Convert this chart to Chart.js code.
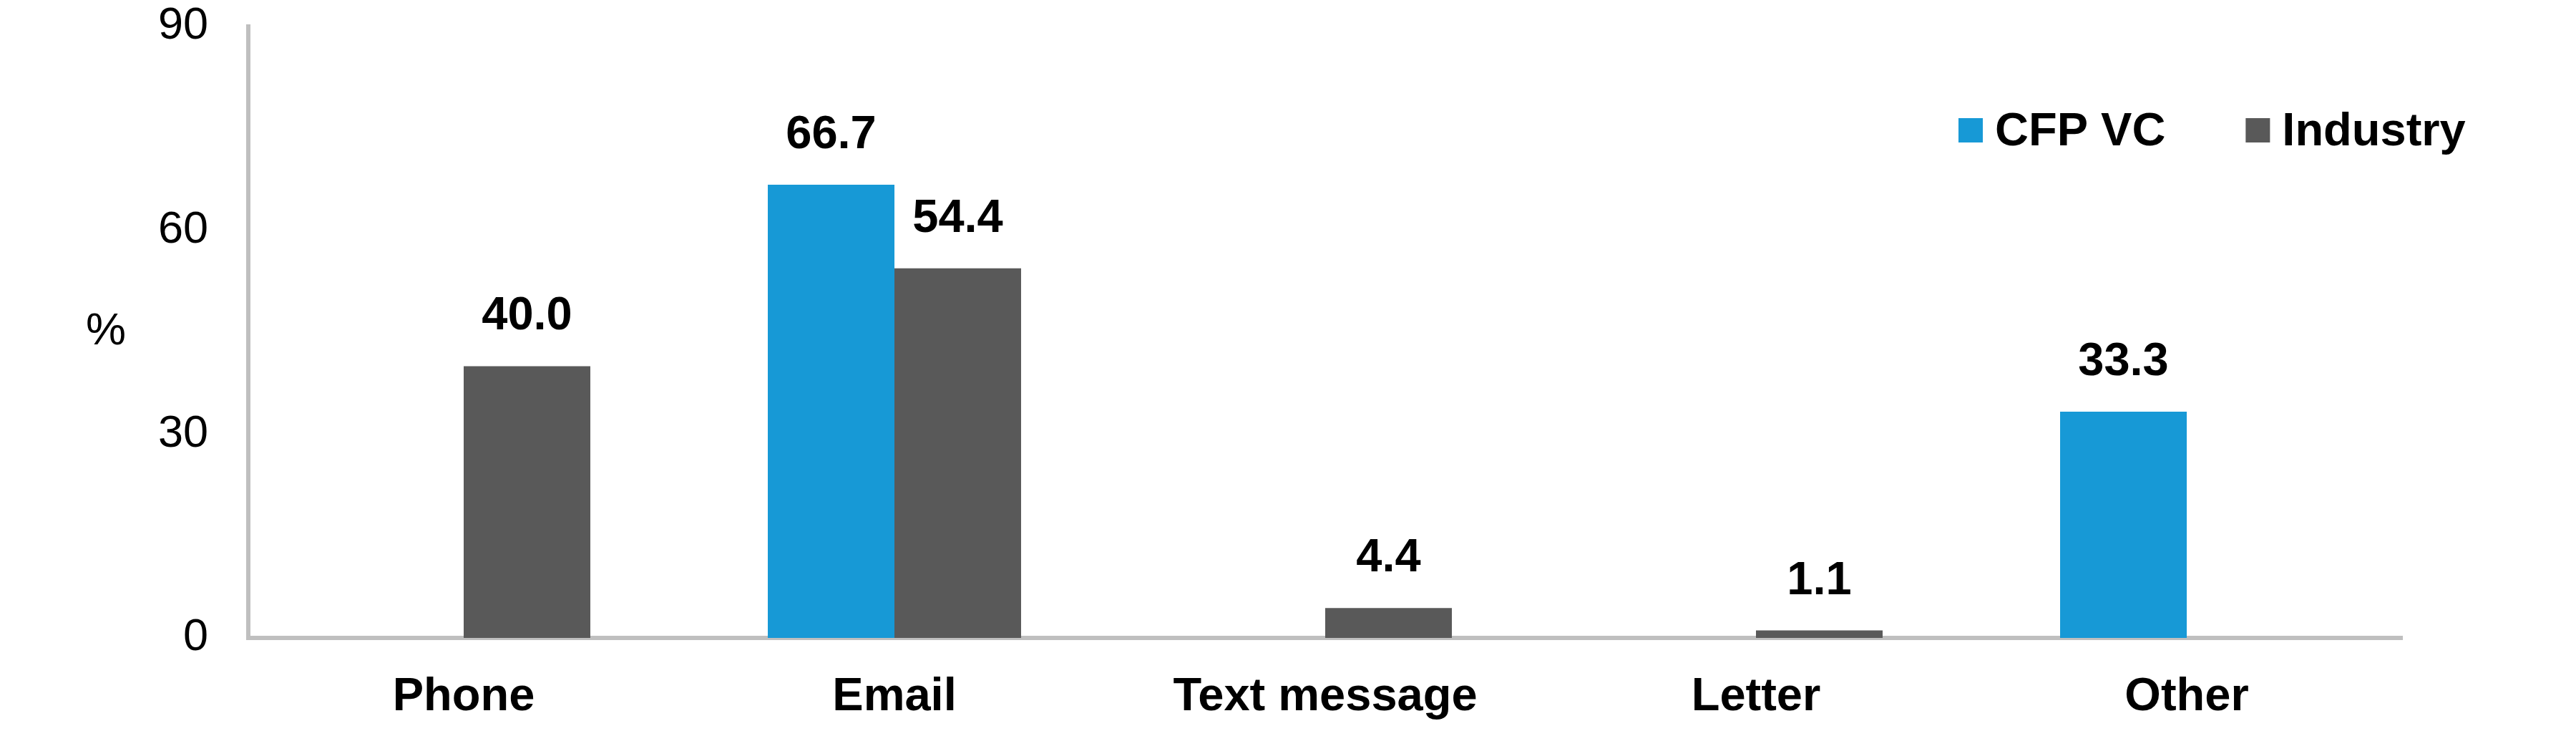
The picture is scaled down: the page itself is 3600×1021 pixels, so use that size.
<!DOCTYPE html>
<html>
<head>
<meta charset="utf-8">
<script src="https://cdn.jsdelivr.net/npm/chart.js@4.4.1/dist/chart.umd.min.js"></script>
<style>
  html, body { margin: 0; padding: 0; background: #fff; }
  #wrap { width: 3600px; height: 1021px; }
</style>
</head>
<body>
<div id="wrap"><canvas id="chart" width="3600" height="1021"></canvas></div>
<script>
const categories = ["Phone", "Email", "Text message", "Letter", "Other"];
const cfpValues = [0, 66.7, 0, 0, 33.3];
const industryValues = [40.0, 54.4, 4.4, 1.1, 0];
const yTicks = [0, 30, 60, 90];

const FONT = "'Liberation Sans', Arial, sans-serif";
const BLUE = "#1799D6";
const GREY = "#595959";
const AXIS = "#BFBFBF";

// value labels above the bars (zero values are left blank)
const valueLabels = {
  id: "valueLabels",
  afterDatasetsDraw(chart) {
    const ctx = chart.ctx;
    ctx.save();
    ctx.font = "bold 65px " + FONT;
    ctx.fillStyle = "#000";
    ctx.textAlign = "center";
    ctx.textBaseline = "alphabetic";
    chart.data.datasets.forEach((ds, i) => {
      chart.getDatasetMeta(i).data.forEach((bar, j) => {
        const v = ds.data[j];
        if (!v) return;
        ctx.fillText(v.toFixed(1), bar.x, bar.y - 51);
      });
    });
    ctx.restore();
  }
};

// "%" axis caption, horizontal like the original
const yCaption = {
  id: "yCaption",
  afterDraw(chart) {
    const ctx = chart.ctx;
    const a = chart.chartArea;
    ctx.save();
    ctx.font = "63px " + FONT;
    ctx.fillStyle = "#000";
    ctx.textAlign = "center";
    ctx.textBaseline = "middle";
    ctx.fillText("%", 148, (a.top + a.bottom) / 2);
    ctx.restore();
  }
};

// legend sits in the top right corner, past the end of the plot
const cornerLegend = {
  id: "cornerLegend",
  afterDraw(chart) {
    const ctx = chart.ctx;
    ctx.save();
    ctx.font = "bold 65px " + FONT;
    ctx.textBaseline = "alphabetic";
    ctx.textAlign = "left";
    let x = 2737;
    chart.data.datasets.forEach(ds => {
      ctx.fillStyle = ds.backgroundColor;
      ctx.fillRect(x, 165, 34, 34);
      ctx.fillStyle = "#000";
      ctx.fillText(ds.label, x + 51, 203);
      x += 51 + ctx.measureText(ds.label).width + 112;
    });
    ctx.restore();
  }
};

const ctx = document.getElementById("chart").getContext("2d");
new Chart(ctx, {
  type: "bar",
  data: {
    labels: categories,
    datasets: [
      { label: "CFP VC", data: cfpValues, backgroundColor: BLUE, borderWidth: 0 },
      { label: "Industry", data: industryValues, backgroundColor: GREY, borderWidth: 0 }
    ]
  },
  options: {
    responsive: false,
    devicePixelRatio: 1,
    animation: false,
    layout: { padding: { top: 0, right: 243, left: 0, bottom: 0 } },
    datasets: { bar: { barPercentage: 1.0, categoryPercentage: 0.588 } },
    plugins: {
      legend: { display: false },
      tooltip: { enabled: false },
      title: { display: false }
    },
    scales: {
      x: {
        grid: { display: false, drawTicks: false },
        border: { display: true, color: AXIS, width: 6 },
        ticks: { color: "#000", font: { family: FONT, size: 65, weight: "bold" }, padding: 44, maxRotation: 0, autoSkip: false },
        afterFit(s) { s.height = 130; }
      },
      y: {
        min: 0,
        max: 90,
        afterBuildTicks(s) { s.ticks = yTicks.map(v => ({ value: v })); },
        grid: { display: false, drawTicks: false },
        border: { display: true, color: AXIS, width: 6 },
        ticks: { color: "#000", font: { family: FONT, size: 63 }, padding: 56 },
        afterFit(s) { s.width = 347; s.paddingTop = 37; s.paddingBottom = 0; }
      }
    }
  },
  plugins: [valueLabels, yCaption, cornerLegend]
});
</script>
</body>
</html>
